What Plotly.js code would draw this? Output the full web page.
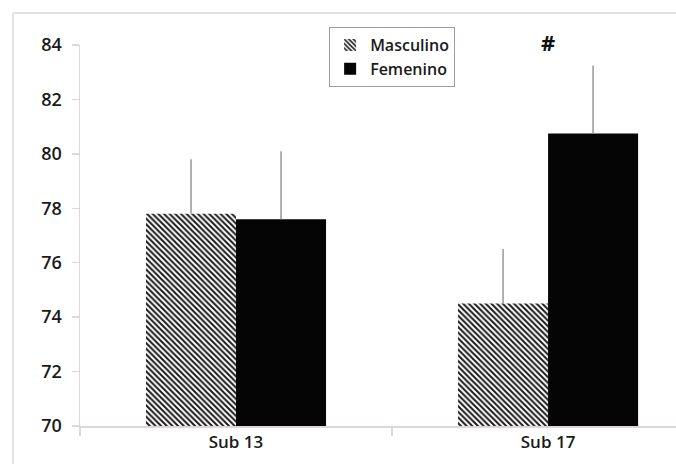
<!DOCTYPE html>
<html>
<head>
<meta charset="utf-8">
<script src="https://cdn.plot.ly/plotly-3.0.1.min.js"></script>
<style>html,body{margin:0;padding:0;background:#fff;}#chart{width:676px;height:464px;}</style>
</head>
<body>
<div id="chart"></div>
<script>
const categories = ["Sub 13", "Sub 17"];
const masculino = [77.8, 74.5];
const masculinoErr = [2.0, 2.0];
const femenino = [77.6, 80.75];
const femeninoErr = [2.5, 2.5];
const yTicks = [70, 72, 74, 76, 78, 80, 82, 84];
const sigMark = "#";

const errStyle = {type: 'data', symmetric: false, color: '#9b9696', thickness: 1.5, width: 0};

const traces = [
  {
    type: 'bar', name: 'Masculino', x: categories, y: masculino,
    marker: {color: '#ffffff', line: {width: 0},
      pattern: {shape: '\\', size: 4, solidity: 0.5, fgcolor: '#1a1a1a', bgcolor: '#ffffff'}},
    error_y: Object.assign({array: masculinoErr, arrayminus: [0, 0]}, errStyle)
  },
  {
    type: 'bar', name: 'Femenino', x: categories, y: femenino,
    marker: {color: '#050505', line: {width: 0}},
    error_y: Object.assign({array: femeninoErr, arrayminus: [0, 0]}, errStyle)
  }
];

const layout = {
  width: 676, height: 464,
  margin: {l: 80, r: 0, t: 45, b: 38},
  paper_bgcolor: '#ffffff', plot_bgcolor: '#ffffff',
  font: {family: '"Open Sans", sans-serif', color: '#1a1a1a'},
  barmode: 'group', bargap: 0.423, bargroupgap: 0,
  showlegend: true,
  legend: {x: 0.418, y: 1.047, xanchor: 'left', yanchor: 'top',
    bordercolor: '#a39d9d', borderwidth: 1, bgcolor: '#fff',
    font: {size: 16, color: '#1a1a1a', weight: 600}, tracegroupgap: 0, itemwidth: 30},
  xaxis: {type: 'category', range: [-0.5, 1.41], showline: true, linecolor: '#ddd7d7', linewidth: 1.5,
    ticks: 'outside', tickson: 'boundaries', ticklen: 8, tickcolor: '#ddd7d7', tickwidth: 1.5,
    showgrid: false, zeroline: false, fixedrange: true,
    tickfont: {size: 17, color: '#1a1a1a', weight: 600}},
  yaxis: {range: [70, 84], tickvals: yTicks, ticktext: yTicks.map(String),
    showline: true, linecolor: '#ddd7d7', linewidth: 1.5,
    ticks: 'outside', ticklen: 7, tickcolor: '#ddd7d7', tickwidth: 1.5,
    showgrid: false, zeroline: false, ticklabelstandoff: 6,
    tickfont: {size: 18, color: '#1a1a1a', weight: 600}},
  annotations: [{x: categories[1], y: 1.008, xref: 'x', yref: 'paper', yanchor: 'middle', xanchor: 'center',
    text: '<b>' + sigMark + '</b>', showarrow: false, font: {size: 22, color: '#111'}}],
  shapes: [
    {type: 'line', xref: 'paper', yref: 'paper', x0: -0.1124, x1: -0.1124, y0: 1.084, y1: -0.2, line: {color: '#e6e1e1', width: 2}},
    {type: 'line', xref: 'paper', yref: 'paper', x0: -0.1124, x1: 1.05, y0: 1.084, y1: 1.084, line: {color: '#e6e1e1', width: 2}}
  ]
};

Plotly.newPlot('chart', traces, layout, {displayModeBar: false, staticPlot: true});
</script>
</body>
</html>
